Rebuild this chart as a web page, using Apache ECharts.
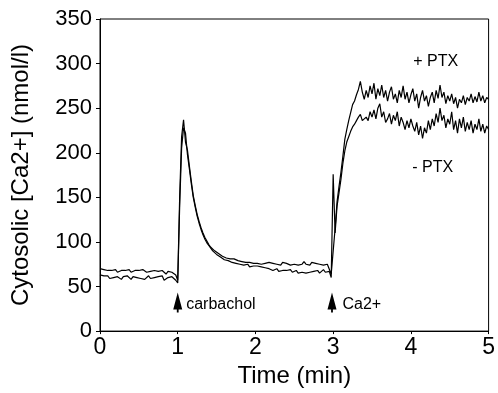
<!DOCTYPE html>
<html>
<head>
<meta charset="utf-8">
<script src="https://cdn.jsdelivr.net/npm/echarts@6/dist/echarts.min.js"></script>
<style>html,body{margin:0;padding:0;background:#fff;}#c{width:498px;height:393px;}</style>
</head>
<body>
<div id="c"></div>
<script>
// Sampling times (min)
var time = [
0,0.025,0.05,0.075,0.1,0.125,0.15,0.175,0.2,0.225,
0.25,0.275,0.3,0.325,0.35,0.375,0.4,0.425,0.45,0.475,
0.5,0.525,0.55,0.575,0.6,0.625,0.65,0.675,0.7,0.725,
0.75,0.775,0.8,0.825,0.85,0.875,0.9,0.925,0.95,0.975,
1,1.025,1.05,1.075,1.1,1.125,1.15,1.175,1.2,1.225,
1.25,1.275,1.3,1.325,1.35,1.375,1.4,1.425,1.45,1.475,
1.5,1.525,1.55,1.575,1.6,1.625,1.65,1.675,1.7,1.725,
1.75,1.775,1.8,1.825,1.85,1.875,1.9,1.925,1.95,1.975,
2,2.025,2.05,2.075,2.1,2.125,2.15,2.175,2.2,2.225,
2.25,2.275,2.3,2.325,2.35,2.375,2.4,2.425,2.45,2.475,
2.5,2.525,2.55,2.575,2.6,2.625,2.65,2.675,2.7,2.725,
2.75,2.775,2.8,2.825,2.85,2.875,2.9,2.925,2.95,2.975,
3,3.025,3.05,3.075,3.1,3.125,3.15,3.175,3.2,3.225,
3.25,3.275,3.3,3.325,3.35,3.375,3.4,3.425,3.45,3.475,
3.5,3.525,3.55,3.575,3.6,3.625,3.65,3.675,3.7,3.725,
3.75,3.775,3.8,3.825,3.85,3.875,3.9,3.925,3.95,3.975,
4,4.025,4.05,4.075,4.1,4.125,4.15,4.175,4.2,4.225,
4.25,4.275,4.3,4.325,4.35,4.375,4.4,4.425,4.45,4.475,
4.5,4.525,4.55,4.575,4.6,4.625,4.65,4.675,4.7,4.725,
4.75,4.775,4.8,4.825,4.85,4.875,4.9,4.925,4.95,4.975,
5
];
// + PTX trace (nmol/l)
var plusPTX = [
70,68,69,67,68,66,68,67,69,66,
67,68,66,68,67,69,66,67,68,66,
68,67,69,67,66,68,67,65,68,66,
67,65,68,66,64,67,65,66,64,63,
57,150,218,237,212,203,185,168,152,141,
131,123,116,110,105,101,97,94,92,90,
88,87,86,84,84,82,83,81,80,81,
80,79,80,78,79,77,78,77,78,76,
77,76,78,75,77,76,74,77,75,76,
78,75,76,74,77,75,76,78,74,76,
75,77,74,76,75,78,75,76,74,77,
75,76,74,75,77,74,76,75,73,64,
62,115,145,162,178,196,215,226,236,245,
254,258,265,271,280,268,260,270,262,275,
266,278,260,272,264,276,262,270,258,268,
274,260,266,256,270,262,275,260,268,256,
265,272,258,266,250,262,270,258,264,252,
262,268,256,270,261,276,262,268,255,264,
258,266,255,262,250,260,256,264,254,262,
258,266,256,263,257,268,258,264,256,262,
260
];
// - PTX trace (nmol/l)
var minusPTX = [
63,61,62,60,62,59,61,60,58,61,
60,58,61,59,62,60,58,61,59,60,
62,59,61,58,60,62,59,61,60,58,
61,59,62,57,55,60,58,61,59,57,
54,140,205,228,222,198,182,165,150,139,
129,121,114,108,103,99,96,93,90,88,
86,85,83,82,80,81,79,78,77,78,
76,77,75,76,74,73,75,72,74,73,
72,73,71,72,70,71,69,70,71,68,
69,70,67,69,68,66,68,67,69,66,
67,68,65,67,66,68,65,67,66,68,
67,66,68,65,67,69,66,68,67,60,
176,110,140,155,170,188,202,212,218,224,
229,232,236,240,243,236,234,240,236,246,
240,248,238,250,255,240,246,234,238,244,
232,242,236,246,230,240,234,226,236,228,
238,230,224,234,220,230,216,228,222,236,
226,238,230,244,234,250,236,242,228,238,
232,246,226,236,222,238,228,240,224,234,
226,236,222,232,226,238,224,232,222,230,
226
];
var xTicks = [0, 1, 2, 3, 4, 5];
var yTicks = [0, 50, 100, 150, 200, 250, 300, 350];

function pairs(t, v) { return t.map(function (x, i) { return [x, v[i]]; }); }

var FONT = 'Liberation Sans, Arial, Helvetica, sans-serif';
var chart = echarts.init(document.getElementById('c'), null, { renderer: 'canvas' });
var arrowPath = 'path://M5,0 L10,17 L6,17 L6,20 L4,20 L4,17 L0,17 Z';

chart.setOption({
  animation: false,
  backgroundColor: '#fff',
  grid: { left: 100, right: 6, top: 19, bottom: 60, show: true, borderColor: '#000', borderWidth: 1, backgroundColor: 'transparent' },
  xAxis: {
    type: 'value', min: xTicks[0], max: xTicks[xTicks.length - 1], interval: 1,
    name: 'Time (min)', nameLocation: 'middle', nameGap: 27,
    nameTextStyle: { fontSize: 24, color: '#000', fontFamily: FONT },
    axisLine: { show: true, onZero: false, lineStyle: { color: '#000', width: 1 } },
    axisTick: { show: true, inside: false, length: 3, lineStyle: { color: '#000' } },
    axisLabel: { fontSize: 23, color: '#000', fontFamily: FONT, margin: 5 },
    splitLine: { show: false }
  },
  yAxis: {
    type: 'value', min: yTicks[0], max: yTicks[yTicks.length - 1], interval: 50,
    name: 'Cytosolic [Ca2+] (nmol/l)', nameLocation: 'middle', nameGap: 67,
    nameTextStyle: { fontSize: 24, color: '#000', fontFamily: FONT },
    axisLine: { show: true, onZero: false, lineStyle: { color: '#000', width: 1 } },
    axisTick: { show: true, inside: false, length: 4, lineStyle: { color: '#000' } },
    axisLabel: { fontSize: 22, color: '#000', fontFamily: FONT, margin: 8 },
    splitLine: { show: false }
  },
  series: [
    {
      name: '+ PTX', type: 'line', data: pairs(time, plusPTX), symbol: 'none',
      lineStyle: { color: '#000', width: 1.2 }, z: 3,
      markPoint: {
        silent: true,
        data: [
          { coord: [1, 32], symbol: arrowPath, symbolSize: [9, 20], itemStyle: { color: '#000' },
            label: { show: true, position: 'right', distance: 4, offset: [0, 2], formatter: 'carbachol', fontSize: 16, color: '#000', fontFamily: FONT } },
          { coord: [2.985, 32], symbol: arrowPath, symbolSize: [9, 20], itemStyle: { color: '#000' },
            label: { show: true, position: 'right', distance: 6, offset: [0, 2], formatter: 'Ca2+', fontSize: 16, color: '#000', fontFamily: FONT } },
          { coord: [4.32, 302], symbol: 'circle', symbolSize: 1, itemStyle: { color: 'transparent' },
            label: { show: true, position: 'inside', formatter: '+ PTX', fontSize: 16, color: '#000', fontFamily: FONT } },
          { coord: [4.28, 183], symbol: 'circle', symbolSize: 1, itemStyle: { color: 'transparent' },
            label: { show: true, position: 'inside', formatter: '- PTX', fontSize: 16, color: '#000', fontFamily: FONT } }
        ]
      }
    },
    {
      name: '- PTX', type: 'line', data: pairs(time, minusPTX), symbol: 'none',
      lineStyle: { color: '#000', width: 1.2 }, z: 3
    }
  ]
});
</script>
</body>
</html>
